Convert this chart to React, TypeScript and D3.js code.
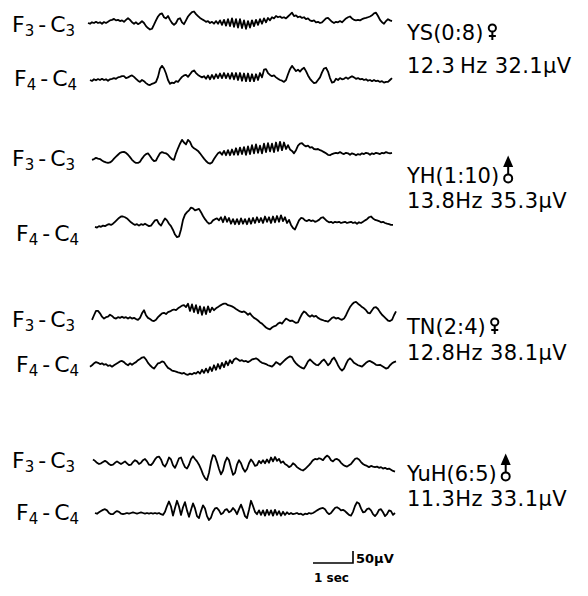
import { useLayoutEffect, useRef, useState } from 'react';
import * as d3 from 'd3';

// EEG samples in µV, one sample every 0.05 s
const DT = 0.05;

const ysF3 = [0,-3,3,0,5,0,3,-3,4,0,5,11,13,17,11,13,8,11,5,13,20,13,3,-3,3,-5,0,8,0,-13,-21,-27,-24,-7,11,27,37,40,24,19,29,13,0,-8,0,16,20,3,-5,11,27,37,45,48,37,29,21,16,11,5,8,0,5,-3,8,-3,11,-8,13,-11,16,-13,19,-16,16,-19,16,-21,11,-24,8,-19,11,-13,13,-8,16,-3,19,3,21,11,24,19,29,24,27,21,24,19,27,35,43,29,32,24,27,21,24,16,19,11,8,11,3,5,0,3,11,19,21,13,5,0,5,3,8,3,11,19,24,27,19,13,11,13,11,16,19,21,24,27,32,40,43,29,13,3,-3,8,16,11,8];
const ysF4 = [0,-4,3,-1,4,0,5,0,3,-3,3,5,8,5,11,13,16,16,8,11,16,19,13,5,-3,-8,0,-5,-13,-19,-21,-16,-13,-8,13,47,59,48,27,0,-16,-11,-13,-5,-8,3,13,19,21,13,24,35,40,29,21,16,11,16,5,19,3,21,5,24,8,27,8,29,8,27,5,29,3,29,0,29,-3,27,-5,27,-5,24,-5,24,0,29,11,43,45,29,21,16,19,11,5,0,-3,-8,0,24,45,59,48,37,43,35,45,51,37,19,5,-5,-13,-11,0,11,32,48,51,35,8,-11,-8,5,0,8,3,5,11,5,11,16,11,5,8,3,5,0,3,-3,0,-5,0,-5,-3,-8,-5,-11,-8,-8,0,8];
const yhF3 = [-20,-17,-12,-15,-17,-23,-28,-31,-33,-31,-25,-15,-7,1,9,12,13,9,1,-9,-20,-28,-33,-33,-28,-15,-4,4,7,-4,-17,-25,-23,-7,7,12,9,7,1,-9,-17,-20,7,28,47,63,52,44,63,55,36,28,23,17,7,-4,-15,-25,-33,-36,-31,-17,-4,7,12,1,17,-1,20,-1,23,1,28,1,31,4,33,1,36,4,41,7,44,9,39,7,47,12,49,15,47,12,52,17,55,20,52,25,41,23,17,7,20,39,47,49,41,36,39,31,33,25,23,25,20,17,12,7,1,-1,4,7,9,7,12,7,4,9,7,1,7,4,-1,4,1,7,4,9,7,1,7,4,9,7,4,9,7,12,9,7,9];
const yhF4 = [-16,-19,-13,-16,-11,-13,-8,-5,-8,-3,5,13,21,27,27,24,19,11,3,-3,-8,-5,-11,-5,-8,-3,-8,-13,-11,0,11,13,-3,-11,5,19,11,-3,-13,-29,-48,-59,-56,-27,13,35,45,53,64,61,53,56,59,45,29,16,5,-3,0,11,16,19,11,24,3,27,5,21,-3,16,-5,16,-5,19,-3,16,-5,19,-3,21,0,24,3,21,0,27,5,24,0,27,3,29,5,32,8,24,0,13,-8,-21,-27,-8,11,21,19,11,8,13,8,11,5,8,13,21,24,16,8,3,5,0,5,3,5,0,3,5,0,3,5,0,3,-3,3,0,5,11,16,24,27,19,13,11,8,3,5,0,-3,-5,-8,-8];
const tnF3 = [-20,-1,17,17,7,-7,-15,-9,-7,1,-4,-12,-15,-9,-12,-7,-12,-9,-15,-9,-15,-12,-17,-20,-12,7,20,-1,-12,-17,-23,-25,-20,-9,-1,7,9,4,12,15,20,23,20,28,33,39,41,33,47,17,44,12,41,7,36,1,33,4,36,12,31,20,28,33,39,44,47,47,41,39,36,31,25,20,15,12,15,9,1,7,-4,-12,-17,-23,-31,-36,-44,-52,-57,-60,-52,-47,-44,-36,-31,-36,-25,-15,-20,-25,-23,-28,-33,-31,-12,4,15,9,-1,-7,-1,-7,-4,-12,-17,-20,-23,-25,-28,-20,-12,-9,-15,-12,-17,-20,-15,-1,17,33,44,52,55,47,41,33,28,20,9,7,20,31,33,25,12,1,-7,-15,-23,-25,-20,-1,15];
const tnF4 = [-7,-1,7,12,9,4,7,1,4,-4,-1,-7,-1,4,9,15,17,12,4,-1,7,1,7,12,20,25,31,33,23,9,-1,-9,-15,-4,7,9,15,12,-1,-12,-17,-23,-25,-28,-31,-33,-36,-33,-39,-41,-36,-39,-33,-36,-28,-36,-20,-33,-15,-31,-9,-25,-1,-20,4,-15,9,-9,15,-1,20,7,23,28,23,17,20,15,17,12,17,23,25,28,23,15,9,7,4,-1,-4,-7,1,12,7,1,9,17,25,31,36,33,17,7,-1,-7,-12,-15,-1,15,23,15,7,1,-1,7,17,23,12,-1,7,23,31,17,-1,-15,-23,-15,4,20,28,20,9,4,-1,-4,-7,1,9,15,17,12,7,1,-1,1,-4,-9,-15,-12,-1,7,12,15];
const yuhF3 = [19,13,5,0,3,8,13,8,0,-5,-3,5,11,5,0,5,11,3,-5,-3,8,16,11,0,5,16,21,11,-3,-5,5,19,29,31,19,-3,-11,5,27,19,-5,-16,3,24,27,5,-13,-19,-3,21,32,21,11,-3,-21,-43,-59,-67,-37,8,37,32,8,-21,-43,-27,8,27,16,-16,-45,-37,-3,16,3,-19,-32,-21,3,19,8,-8,-5,13,3,16,3,19,5,27,11,29,13,21,5,11,0,-5,-13,-8,3,-3,-13,-19,-24,-27,-21,-13,-5,5,16,21,19,24,21,16,27,35,29,16,11,19,21,16,5,-3,-8,-11,-5,0,11,21,24,19,8,0,-5,-8,-13,-8,-11,-13,-11,-16,-13,-19,-16,-21,-19,-24,-29,-32];
const yuhF4 = [0,-3,3,8,13,16,11,0,-5,-5,3,8,5,-3,-5,-3,0,-3,0,3,0,-3,0,3,0,-3,0,-3,0,-3,0,-3,0,-5,-8,5,29,48,27,-11,21,51,27,-8,24,45,11,-16,13,40,19,-13,-21,8,32,19,-13,-29,-19,5,19,21,11,-5,0,13,16,3,8,21,11,-5,16,35,13,-13,-21,13,51,29,5,-5,11,-8,11,-11,13,-8,11,-11,13,-8,8,-11,5,-8,3,-5,0,-5,-3,0,-5,-3,-8,-3,-5,0,-3,0,5,11,16,19,21,16,3,-5,0,11,21,24,19,11,13,8,0,-8,-11,5,29,45,40,19,3,5,16,19,11,-5,-13,-3,13,16,3,-13,-5,11,8,-8,0];

const subjects = ['YS(0:8)', 'YH(1:10)', 'TN(2:4)', 'YuH(6:5)'];
const sexes = ['f', 'm', 'f', 'm'];
const stats = ['12.3\u2009Hz  32.1\u00b5V', '13.8Hz  35.3\u00b5V', '12.8Hz  38.1\u00b5V', '11.3Hz  33.1\u00b5V'];

// layout of each trace row
const rows = [
  { lead: ['F', '3', 'C', '3'], data: ysF3, x0: 88, y0: 23, lx: 12, ly: 32 },
  { lead: ['F', '4', 'C', '4'], data: ysF4, x0: 90, y0: 80, lx: 14, ly: 86 },
  { lead: ['F', '3', 'C', '3'], data: yhF3, x0: 92, y0: 155, lx: 12, ly: 166 },
  { lead: ['F', '4', 'C', '4'], data: yhF4, x0: 95, y0: 223, lx: 16, ly: 241 },
  { lead: ['F', '3', 'C', '3'], data: tnF3, x0: 92, y0: 315, lx: 12, ly: 327 },
  { lead: ['F', '4', 'C', '4'], data: tnF4, x0: 90, y0: 365, lx: 16, ly: 372 },
  { lead: ['F', '3', 'C', '3'], data: yuhF3, x0: 93, y0: 464, lx: 12, ly: 468 },
  { lead: ['F', '4', 'C', '4'], data: yuhF4, x0: 95, y0: 513, lx: 16, ly: 520 },
];
const blocks = [
  { y1: 40, y2: 73 },
  { y1: 183, y2: 208 },
  { y1: 334, y2: 360 },
  { y1: 481, y2: 506 },
];

const FONT = '"DejaVu Sans", sans-serif';

// 1 s = 40 px, 50 µV = 12 px
const tScale = d3.scaleLinear().domain([0, 1]).range([0, 40]);
const vScale = d3.scaleLinear().domain([-50, 50]).range([12, -12]);
const trace = d3
  .line<number>()
  .x((_, i) => tScale(i * DT))
  .y(d => vScale(d));

function Sex({ x, y, kind }: { x: number; y: number; kind: string }) {
  if (kind === 'f') {
    return (
      <g stroke='#000' strokeWidth={2} fill='none'>
        <circle cx={x} cy={y - 12} r={3.6} />
        <line x1={x} y1={y - 8.4} x2={x} y2={y} />
        <line x1={x - 3.5} y1={y - 4} x2={x + 3.5} y2={y - 4} />
      </g>
    );
  }
  return (
    <g stroke='#000' strokeWidth={2} fill='none'>
      <path d={`M${x},${y - 25}L${x - 3.5},${y - 17}L${x + 3.5},${y - 17}Z`} fill='#000' />
      <line x1={x} y1={y - 17} x2={x} y2={y - 9} />
      <circle cx={x} cy={y - 4.6} r={4} />
    </g>
  );
}

export default function App() {
  const subjRefs = useRef<(SVGTextElement | null)[]>([]);
  const [widths, setWidths] = useState<number[]>([92, 100, 90, 110]);

  useLayoutEffect(() => {
    setWidths(subjRefs.current.map(el => (el ? el.getComputedTextLength() : 90)));
  }, []);

  const barW = tScale(1);
  const barH = vScale(0) - vScale(50);
  const bx = 313;
  const by = 563;
  return (
    <svg
      width={588}
      height={596}
      style={{ position: 'absolute', left: 0, top: 0, background: '#fff' }}
      fontFamily={FONT}
    >
      <rect width={588} height={596} fill='#fff' />
      {rows.map((r, i) => (
        <g key={i}>
          <text x={r.lx} y={r.ly} fontSize={22} fill='#000'>
            {r.lead[0]}
            <tspan fontSize={15} dy={4}>{r.lead[1]}</tspan>
            <tspan dy={-4} dx={4}>-</tspan>
            <tspan dx={4}>{r.lead[2]}</tspan>
            <tspan fontSize={15} dy={4}>{r.lead[3]}</tspan>
          </text>
          <path
            transform={`translate(${r.x0},${r.y0})`}
            d={trace(r.data) ?? ''}
            fill='none'
            stroke='#000'
            strokeWidth={1.8}
            strokeLinejoin='round'
          />
        </g>
      ))}
      {blocks.map((b, i) => (
        <g key={i} fontSize={21} fill='#000'>
          <text
            ref={el => {
              subjRefs.current[i] = el;
            }}
            x={407}
            y={b.y1}
          >
            {subjects[i]}
          </text>
          <Sex x={407 + widths[i] + 9} y={b.y1} kind={sexes[i]} />
          <text x={407} y={b.y2} letterSpacing={0.4}>
            {stats[i]}
          </text>
        </g>
      ))}
      {/* calibration bar */}
      <path
        d={`M${bx},${by}H${bx + barW}V${by - barH}`}
        fill='none'
        stroke='#000'
        strokeWidth={1.6}
      />
      <text x={bx + barW + 3} y={by} fontSize={13} fontWeight='bold'>
        50µV
      </text>
      <text x={bx + 1} y={by + 19} fontSize={12} fontWeight='bold'>
        1 sec
      </text>
    </svg>
  );
}
